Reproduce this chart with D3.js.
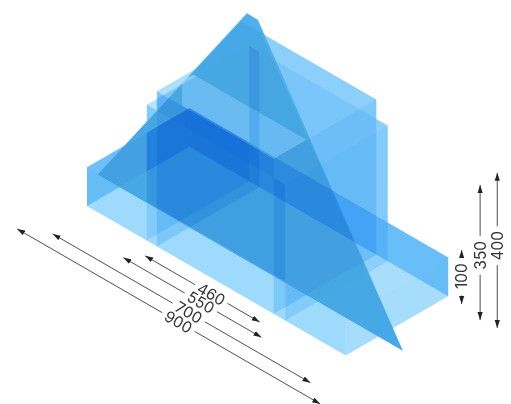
<!DOCTYPE html>
<html>
<head>
<meta charset="utf-8">
<script src="https://cdnjs.cloudflare.com/ajax/libs/d3/7.8.5/d3.min.js"></script>
<style>
html, body { margin: 0; padding: 0; background: #fff; }
svg { display: block; isolation: isolate; background: #fff; }
.layer { mix-blend-mode: multiply; }
.floor { mix-blend-mode: darken; }
</style>
</head>
<body>
<svg width="511" height="404"></svg>
<script>
// boxes, in model units: slab, wide block, narrow block
const boxU0 = [0, 178, 208];
const boxU1 = [770, 590, 556];
const boxDepth = 305;
const boxHeight = [100, 350, 400];

// triangular plate, outline in the u/w plane
const plateV = 97;
const plateU = [-65, 379, 412, 843];
const plateW = [0, 638, 637, 0];
const plateInnerU = [-65, 362, 421, 843];
const plateInnerW = [0, 608, 608, 0];

// part of the narrow block's top that stays clear of the plate
const clearU = [283, 556, 556, 220, 216];
const clearV = [0, 0, 97, 97, 67];

// dimension arrows along the long axis
const lengthLabels = ["460", "550", "700", "900"];
const lengthStart = [215, 187, 21, -45];
const lengthEnd = [556, 598, 788, 857];
const lengthV = [-42, -79, -123, -163];
const lengthLabelU = [412, 418, 426, 435];

// dimension arrows upright
const heightLabels = ["100", "350", "400"];
const heightU = [810, 879, 925];
const heightV = [305, 291, 296];
const heightSpan = [139, 348, 400];
const heightLabelW = [72, 167, 212];

const blue = "rgb(0,158,245)";
const plateFloor = "rgb(115,200,255)";
const plateShade = "rgb(0,155,200)";
const sideAlpha = 0.38;
const endAlpha = [0.35, 0.17, 0.22];
const topAlpha = [0.34, 0.12, 0.12];

const svg = d3.select("svg");

// isometric projection
const xFrom = d3.scaleLinear().domain([0, 1000]).range([87, 423]);
const yFromU = d3.scaleLinear().domain([0, 1000]).range([0, 194]);
const yFromW = d3.scaleLinear().domain([0, 1000]).range([0, 388]);
const project = (u, v, w) => [xFrom(u + v), 206 + yFromU(u - v) - yFromW(w)];
const outline = d3.line();
const facePath = pts => outline(pts.map(p => project(...p))) + "Z";

const defs = svg.append("defs");
defs.append("marker").attr("id", "head")
    .attr("viewBox", "0 0 8 6").attr("refX", 8).attr("refY", 3)
    .attr("markerUnits", "userSpaceOnUse")
    .attr("markerWidth", 8).attr("markerHeight", 6).attr("orient", "auto-start-reverse")
    .append("path").attr("d", "M0,0.4L8,3L0,5.6Z").attr("fill", "#222");

const hide = defs.append("mask").attr("id", "plateMask").attr("maskUnits", "userSpaceOnUse")
    .attr("x", 0).attr("y", 0).attr("width", 511).attr("height", 404);
hide.append("rect").attr("width", 511).attr("height", 404).attr("fill", "#fff");
hide.append("path")
    .attr("d", facePath(clearU.map((u, i) => [u, clearV[i], boxHeight[2]])))
    .attr("fill", "#555");

// front and back planes are shared, so all blocks count once there
function stepped(v) {
    const left = boxU0.flatMap((u, i) => [[u, v, i ? boxHeight[i - 1] : 0], [u, v, boxHeight[i]]]);
    const right = boxU1.flatMap((u, i) => [[u, v, i ? boxHeight[i - 1] : 0], [u, v, boxHeight[i]]]).reverse();
    return left.concat(right);
}

const layers = [
    {pts: stepped(0), alpha: sideAlpha},
    {pts: stepped(boxDepth), alpha: sideAlpha}
];
boxU0.forEach((u0, i) => {
    const u1 = boxU1[i], h = boxHeight[i];
    [u0, u1].forEach(u => layers.push({
        pts: [[u, 0, 0], [u, boxDepth, 0], [u, boxDepth, h], [u, 0, h]],
        alpha: endAlpha[i]
    }));
    layers.push({
        pts: [[u0, 0, h], [u1, 0, h], [u1, boxDepth, h], [u0, boxDepth, h]],
        alpha: topAlpha[i]
    });
});

svg.append("g").selectAll("path").data(layers).join("path")
    .attr("class", "layer")
    .attr("d", d => facePath(d.pts))
    .attr("fill", blue).attr("fill-opacity", d => d.alpha);

const plate = svg.append("g");
const plateOutline = facePath(plateU.map((u, i) => [u, plateV, plateW[i]]));
plate.append("path").attr("class", "floor").attr("mask", "url(#plateMask)")
    .attr("d", plateOutline).attr("fill", plateFloor);
plate.append("path").attr("class", "layer").attr("mask", "url(#plateMask)")
    .attr("d", plateOutline).attr("fill", plateShade).attr("fill-opacity", 0.3);
plate.append("path").attr("class", "layer").attr("mask", "url(#plateMask)")
    .attr("d", facePath(plateInnerU.map((u, i) => [u, plateV, plateInnerW[i]])))
    .attr("fill", plateShade).attr("fill-opacity", 0.12);

const dims = svg.append("g");
function arrowPart(from, to) {
    dims.append("line").attr("x1", from[0]).attr("y1", from[1]).attr("x2", to[0]).attr("y2", to[1])
        .attr("stroke", "#222").attr("stroke-width", 0.8).attr("marker-end", "url(#head)");
}
function dimText(pos, angle, label) {
    dims.append("text").attr("transform", `translate(${pos[0]},${pos[1]}) rotate(${angle})`)
        .attr("text-anchor", "middle").attr("dy", "0.36em")
        .attr("font-family", "Inter, sans-serif").attr("font-size", 15.5).attr("fill", "#333")
        .text(label);
}

// long axis dimensions
const gapU = 48;
lengthLabels.forEach((label, i) => {
    const v = lengthV[i], mid = lengthLabelU[i];
    arrowPart(project(mid - gapU, v, 0), project(lengthStart[i], v, 0));
    arrowPart(project(mid + gapU, v, 0), project(lengthEnd[i], v, 0));
    dimText(project(mid, v, 0), 30, label);
});

// upright dimensions
const gapW = 50;
heightLabels.forEach((label, i) => {
    const u = heightU[i], v = heightV[i], mid = heightLabelW[i];
    arrowPart(project(u, v, mid - gapW), project(u, v, 0));
    arrowPart(project(u, v, mid + gapW), project(u, v, heightSpan[i]));
    dimText(project(u, v, mid), -90, label);
});
</script>
</body>
</html>
